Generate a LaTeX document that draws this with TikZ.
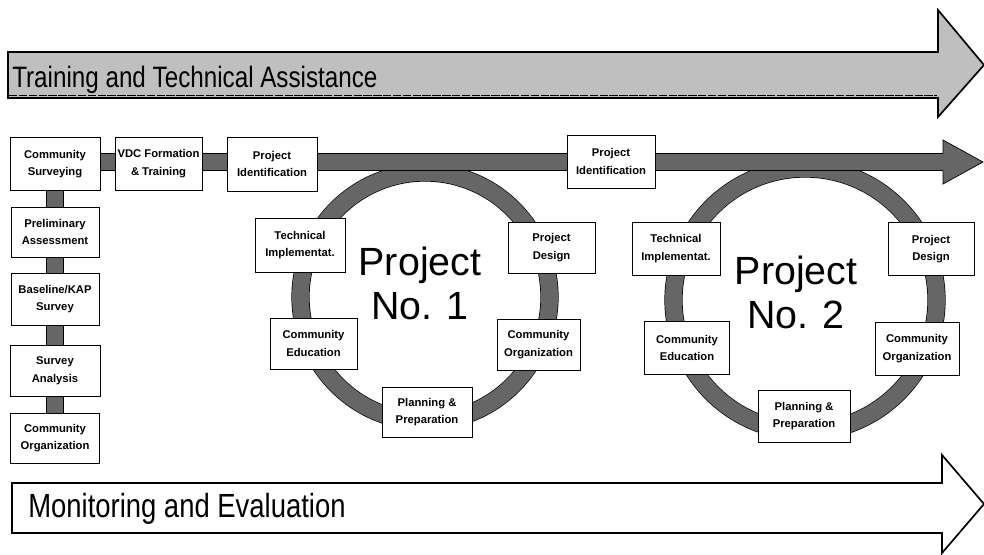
\documentclass[tikz,border=0pt]{standalone}
\usepackage{fontspec}
\setmainfont{Liberation Sans}
\newfontfamily\condfont[FakeStretch=0.82]{Liberation Sans}
\usepackage{tikz}
\usetikzlibrary{backgrounds,calc}

\tikzset{
	stage/.style = {
			draw       = black,
			fill       = white,
			line width = 0.7pt,
			align      = center,
			inner sep  = 1pt,
			font       = \bfseries\fontsize{8}{12.5}\selectfont,
		},
	sz/.style 2 args = {minimum width=#1*0.025cm, minimum height=#2*0.025cm},
	band/.style = {
			draw            = black,
			line width      = 0.5pt,
			double          = black!60,
			double distance = 0.42cm,
		},
	bandhead/.style = {fill=black!60, draw=black, line width=0.5pt},
	banner/.style = {draw=black, line width=1.2pt},
	bannertext/.style = {anchor=base west, inner sep=0pt},
	title/.style = {align=center, inner sep=0pt, font=\fontsize{28}{31}\selectfont},
}

\begin{document}
\begin{tikzpicture}[x=0.025cm, y=-0.025cm]
	\useasboundingbox (0,0) rectangle (984,554);

	% top banner
	\draw[banner, fill=black!25] (8,52) -- (938,52) -- (938,10) -- (984,65) -- (938,117) -- (938,98) -- (8,98) -- cycle;
	\draw[line width=1.1pt, dash pattern=on 6pt off 1pt] (9,95.5) -- (937,95.5);
	\node[bannertext, font=\condfont\fontsize{21}{24}\selectfont] (tta) at (12,87) {Training and Technical Assistance};

	% bottom banner
	\draw[banner, fill=white] (12,483) -- (942,483) -- (942,455) -- (984,504) -- (942,553) -- (942,533) -- (12,533) -- cycle;
	\node[bannertext, font=\condfont\fontsize{23.8}{28}\selectfont] (mne) at (28,517) {Monitoring and Evaluation};

	% start-up column
	\node[stage, sz={90}{53}] (cs) at (55,164) {Community\\Surveying};
	\node[stage, sz={87}{53}] (vdc) at (158.5,163.5) {VDC Formation\\\& Training};
	\node[stage, sz={90}{54}] (pid1) at (272,164) {Project\\Identification};
	\node[stage, sz={88}{50}] (pa) at (55,232) {Preliminary\\Assessment};
	\node[stage, sz={88}{52}] (kap) at (55,299) {Baseline/KAP\\Survey};
	\node[stage, sz={90}{51}] (sa) at (55,370.5) {Survey\\Analysis};
	\node[stage, sz={89}{50}] (corg) at (55,438) {Community\\Organization};
	\node[stage, sz={88}{53}] (pid2) at (611,161.5) {Project\\Identification};

	% project 1
	\node[stage, sz={90}{54}] (ti1) at (300,245) {Technical\\Implementat.};
	\node[stage, sz={87}{51}] (pd1) at (551.5,247.5) {Project\\Design};
	\node[stage, sz={87}{51}] (ce1) at (313.5,343.5) {Community\\Education};
	\node[stage, sz={83}{51}] (co1) at (538.5,344.5) {Community\\Organization};
	\node[stage, sz={90}{50}] (pp1) at (427,412) {Planning \&\\Preparation};
	\node[title] (pno1) at (420,283.5) {Project\\No. 1};

	% project 2
	\node[stage, sz={88}{53}] (ti2) at (676,248.5) {Technical\\Implementat.};
	\node[stage, sz={86}{53}] (pd2) at (931,249) {Project\\Design};
	\node[stage, sz={85}{53}] (ce2) at (687,348) {Community\\Education};
	\node[stage, sz={84}{53}] (co2) at (917,348.5) {Community\\Organization};
	\node[stage, sz={92}{52}] (pp2) at (804,416) {Planning \&\\Preparation};
	\node[title] (pno2) at (796,292.5) {Project\\No. 2};

	\coordinate (ring1) at (425,297);
	\coordinate (ring2) at (805,300);
	\coordinate (barend) at (943,162);

	\begin{scope}[on background layer]
		\draw[band] (ring1) circle (124.5);
		\draw[band] (ring2) circle (131.5);
		\draw[band] (cs |- barend) -- (barend);
		\draw[band] (cs) -- (pa);
		\draw[band] (pa) -- (kap);
		\draw[band] (kap) -- (sa);
		\draw[band] (sa) -- (corg);
	\end{scope}
	\filldraw[bandhead] ($(barend)+(0,-8.5)$) -- ++(0,-13.5) -- ++(40,22) -- ++(-40,22) -- ++(0,-13.5);
\end{tikzpicture}
\end{document}
